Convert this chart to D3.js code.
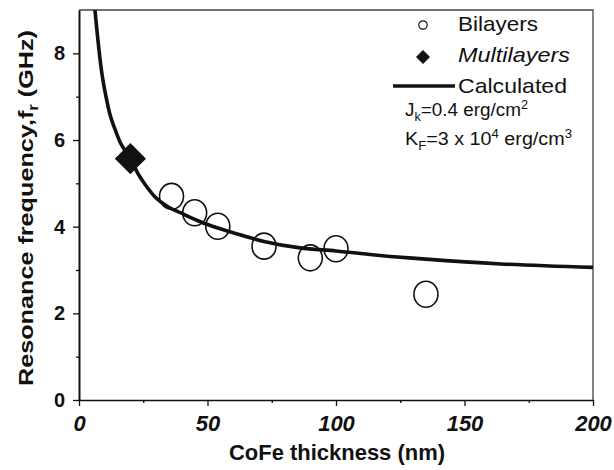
<!DOCTYPE html>
<html>
<head>
<meta charset="utf-8">
<script src="https://cdn.jsdelivr.net/npm/d3@7"></script>
<style>
  body { margin: 0; background: #fff; }
  text, tspan { font-family: "Liberation Sans", Arial, sans-serif; fill: #111; }
</style>
</head>
<body>
<div id="my_dataviz"></div>
<script>
// Data
const bilayerThickness = [36, 45, 54, 72, 90, 100, 135];
const bilayerFreq      = [4.70, 4.32, 4.01, 3.55, 3.28, 3.49, 2.44];

const multilayerThickness = [20];
const multilayerFreq      = [5.57];

// calculated curve, points
const calcThickness = [6.2, 7.2, 8.8, 10.5, 12, 14, 16, 18, 20, 23, 26, 30, 34, 41, 47, 54, 60, 72, 86, 100, 118, 135, 164, 200];
const calcFreq      = [9.0, 8.4, 7.58, 7.0, 6.6, 6.25, 5.95, 5.75, 5.56, 5.22, 4.95, 4.66, 4.48, 4.28, 4.12, 3.97, 3.86, 3.66, 3.51, 3.44, 3.33, 3.25, 3.14, 3.06];

const xTicks = [0, 50, 100, 150, 200];
const xMinorTicks = [25, 75, 125, 175];
const yTicks = [0, 2, 4, 6, 8];
const yMinorTicks = [1, 3, 5, 7];

// Set the dimensions and margins of the graph
const margin = { top: 10, right: 21, bottom: 70, left: 79 },
    width = 614 - margin.left - margin.right,
    height = 470 - margin.top - margin.bottom;

const root = d3.select("#my_dataviz")
  .append("svg")
    .attr("width", 614)
    .attr("height", 470);

const svg = root.append("g")
    .attr("transform", `translate(${margin.left},${margin.top})`);

const x = d3.scaleLinear().domain([0, 200]).range([0, width]);
const y = d3.scaleLinear().domain([0, 9]).range([height, 0]);

// frame (top + right)
svg.append("path")
    .attr("d", `M0,0H${width}V${height}`)
    .attr("fill", "none")
    .attr("stroke", "#444")
    .attr("stroke-width", 1.3);

// X axis
const xAxis = svg.append("g")
    .attr("transform", `translate(0,${height})`)
    .call(d3.axisBottom(x).tickValues(xTicks).tickSize(6).tickSizeOuter(0).tickPadding(9));
svg.append("g")
    .attr("transform", `translate(0,${height})`)
    .call(d3.axisBottom(x).tickValues(xMinorTicks).tickSize(3).tickFormat(""))
    .select(".domain").remove();
xAxis.selectAll("text")
    .style("font-family", '"Liberation Sans", Arial, sans-serif')
    .style("font-size", "22px")
    .style("font-weight", "bold")
    .style("font-style", "italic")
    .attr("fill", "#111");

// Y axis
const yAxis = svg.append("g")
    .call(d3.axisLeft(y).tickValues(yTicks).tickSize(6).tickSizeOuter(0).tickPadding(8));
svg.append("g")
    .call(d3.axisLeft(y).tickValues(yMinorTicks).tickSize(3).tickFormat(""))
    .select(".domain").remove();
yAxis.selectAll("text")
    .style("font-family", '"Liberation Sans", Arial, sans-serif')
    .style("font-size", "20px")
    .style("font-weight", "bold")
    .attr("fill", "#111");

svg.selectAll(".tick line").attr("stroke", "#111").attr("stroke-width", 1.3);
xAxis.select(".domain").attr("stroke", "#111").attr("stroke-width", 1.6);
yAxis.select(".domain").attr("stroke", "#111").attr("stroke-width", 2);

// Axis labels
root.append("text")
    .attr("x", 337)
    .attr("y", 460)
    .attr("text-anchor", "middle")
    .attr("textLength", 216)
    .attr("lengthAdjust", "spacingAndGlyphs")
    .style("font-size", "22px")
    .style("font-weight", "bold")
    .text("CoFe thickness (nm)");

const yLabel = root.append("text")
    .attr("transform", "translate(33,208) rotate(-90)")
    .attr("text-anchor", "middle")
    .attr("textLength", 356)
    .attr("lengthAdjust", "spacingAndGlyphs")
    .style("font-size", "21px")
    .style("font-weight", "bold");
yLabel.append("tspan").text("Resonance frequency,f");
yLabel.append("tspan").attr("dy", 5).style("font-size", "14px").text("r");
yLabel.append("tspan").attr("dy", -5).text(" (GHz)");

// Clip for the curve
svg.append("clipPath").attr("id", "plotClip")
  .append("rect").attr("width", width).attr("height", height);

// Calculated curve
const calcData = calcThickness.map((t, i) => ({ t: t, f: calcFreq[i] }));
const line = d3.line()
    .x(d => x(d.t))
    .y(d => y(d.f))
    .curve(d3.curveMonotoneX);
svg.append("path")
    .datum(calcData)
    .attr("clip-path", "url(#plotClip)")
    .attr("fill", "none")
    .attr("stroke", "#111")
    .attr("stroke-width", 3.6)
    .attr("d", line);

// Bilayers (open circles)
svg.append("g")
  .selectAll("ellipse")
  .data(bilayerThickness.map((t, i) => ({ t: t, f: bilayerFreq[i] })))
  .enter()
  .append("ellipse")
    .attr("cx", d => x(d.t))
    .attr("cy", d => y(d.f))
    .attr("rx", 12)
    .attr("ry", 13)
    .attr("fill", "none")
    .attr("stroke", "#111")
    .attr("stroke-width", 1.6);

// Multilayers (filled diamond)
const bigDiamond = d3.symbol().type(d3.symbolSquare).size(484);
svg.append("g")
  .selectAll("path")
  .data(multilayerThickness.map((t, i) => ({ t: t, f: multilayerFreq[i] })))
  .enter()
  .append("path")
    .attr("d", bigDiamond)
    .attr("transform", d => `translate(${x(d.t)},${y(d.f)}) rotate(45)`)
    .attr("fill", "#111");

// Legend
const legend = root.append("g");
legend.append("circle")
    .attr("cx", 423).attr("cy", 25).attr("r", 4.2)
    .attr("fill", "none").attr("stroke", "#111").attr("stroke-width", 1.2);
legend.append("path")
    .attr("d", d3.symbol().type(d3.symbolSquare).size(98))
    .attr("transform", "translate(423,57) rotate(45)")
    .attr("fill", "#111");
legend.append("line")
    .attr("x1", 393).attr("x2", 455)
    .attr("y1", 86).attr("y2", 86)
    .attr("stroke", "#111").attr("stroke-width", 3.6);

legend.append("text")
    .attr("x", 458).attr("y", 31)
    .attr("textLength", 80).attr("lengthAdjust", "spacingAndGlyphs")
    .style("font-size", "21px")
    .text("Bilayers");
legend.append("text")
    .attr("x", 458).attr("y", 62)
    .attr("textLength", 112).attr("lengthAdjust", "spacingAndGlyphs")
    .style("font-size", "21px")
    .style("font-style", "italic")
    .text("Multilayers");
legend.append("text")
    .attr("x", 458).attr("y", 93)
    .attr("textLength", 109).attr("lengthAdjust", "spacingAndGlyphs")
    .style("font-size", "21px")
    .text("Calculated");

// Parameters
const jk = legend.append("text")
    .attr("x", 405).attr("y", 116)
    .attr("textLength", 123).attr("lengthAdjust", "spacingAndGlyphs")
    .style("font-size", "18px");
jk.append("tspan").text("J");
jk.append("tspan").attr("dy", 5).style("font-size", "12px").text("k");
jk.append("tspan").attr("dy", -5).text("=0.4 erg/cm");
jk.append("tspan").attr("dy", -7).style("font-size", "12px").text("2");

const kf = legend.append("text")
    .attr("x", 405).attr("y", 145)
    .attr("textLength", 167).attr("lengthAdjust", "spacingAndGlyphs")
    .style("font-size", "18px");
kf.append("tspan").text("K");
kf.append("tspan").attr("dy", 5).style("font-size", "12px").text("F");
kf.append("tspan").attr("dy", -5).text("=3 x 10");
kf.append("tspan").attr("dy", -7).style("font-size", "12px").text("4");
kf.append("tspan").attr("dy", 7).text(" erg/cm");
kf.append("tspan").attr("dy", -7).style("font-size", "12px").text("3");
</script>
</body>
</html>
